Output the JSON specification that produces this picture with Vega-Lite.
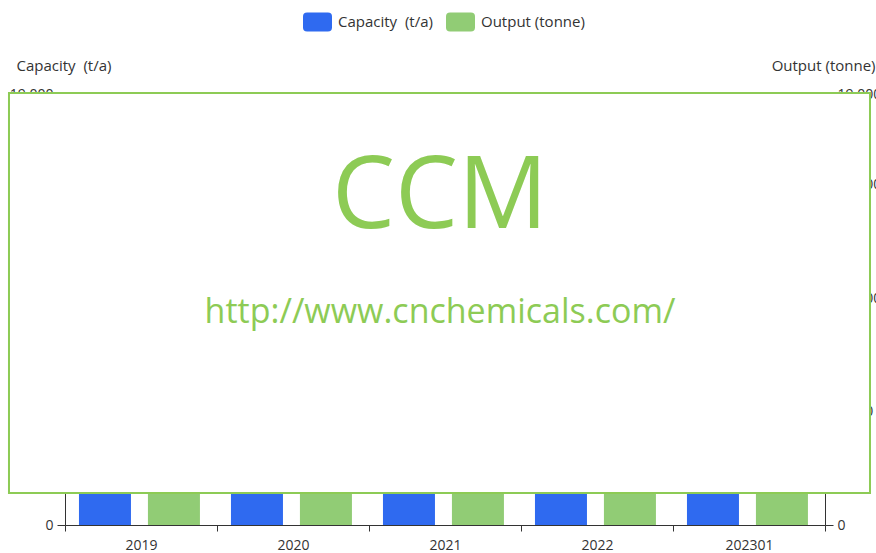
{
  "$schema": "https://vega.github.io/schema/vega-lite/v6.json",
  "width": 760,
  "height": 431,
  "autosize": {"type": "none"},
  "padding": {"left": 65, "top": 94, "right": 51, "bottom": 28},
  "background": "white",
  "config": {"view": {"stroke": null}, "font": "Open Sans"},
  "datasets": {
    "bars": [
      {"year": "2019", "series": "Capacity  (t/a)", "value": 16000},
      {"year": "2020", "series": "Capacity  (t/a)", "value": 16000},
      {"year": "2021", "series": "Capacity  (t/a)", "value": 17000},
      {"year": "2022", "series": "Capacity  (t/a)", "value": 17000},
      {"year": "202301", "series": "Capacity  (t/a)", "value": 17000},
      {"year": "2019", "series": "Output (tonne)", "value": 9500},
      {"year": "2020", "series": "Output (tonne)", "value": 10200},
      {"year": "2021", "series": "Output (tonne)", "value": 11800},
      {"year": "2022", "series": "Output (tonne)", "value": 12400},
      {"year": "202301", "series": "Output (tonne)", "value": 2000}
    ]
  },
  "resolve": {"scale": {"x": "independent", "y": "independent", "xOffset": "independent"}},
  "layer": [
    {
      "data": {"name": "bars"},
      "transform": [{"filter": "datum.series === 'Capacity  (t/a)'"}],
      "mark": {"type": "bar"},
      "encoding": {
        "x": {"field": "year", "type": "nominal", "sort": null,
          "scale": {"paddingInner": 0, "paddingOuter": 0},
          "axis": {"title": null, "labelAngle": 0, "tickBand": "extent", "tickSize": 6, "labelPadding": 7,
            "labelFontSize": 14, "labelColor": "#333", "domainColor": "#333", "tickColor": "#333", "grid": false}},
        "xOffset": {"field": "series", "type": "nominal",
          "scale": {"domain": ["Capacity  (t/a)", "Output (tonne)"], "paddingInner": 0.246, "paddingOuter": 0.225, "align": 0.45}},
        "y": {"field": "value", "type": "quantitative",
          "scale": {"domain": [0, 19000], "nice": false},
          "axis": {"orient": "left", "values": [0, 5000, 10000, 15000, 19000], "format": ",.0f", "grid": false,
            "title": "Capacity\u00a0 (t/a)", "titleAngle": 0, "titleX": -49, "titleY": -29, "titleAlign": "left",
            "titleBaseline": "middle", "titleFontSize": 15, "titleFontWeight": "normal", "titleColor": "#333",
            "labelFontSize": 14, "labelColor": "#333", "labelPadding": 4, "tickSize": 8,
            "domainColor": "#333", "tickColor": "#333"}},
        "color": {"field": "series", "type": "nominal",
          "scale": {"domain": ["Capacity  (t/a)", "Output (tonne)"], "range": ["#2f6af0", "#91cc75"]},
          "legend": {"orient": "none", "legendX": 238, "legendY": -86.5, "direction": "horizontal", "title": null,
            "labelExpr": "replace(datum.label, '  ', '\u00a0 ')",
            "symbolType": "M-0.72,-0.655H0.72Q1,-0.655 1,-0.375V0.375Q1,0.655 0.72,0.655H-0.72Q-1,0.655 -1,0.375V-0.375Q-1,-0.655 -0.72,-0.655Z",
            "symbolSize": 841, "symbolStrokeWidth": 0, "labelFontSize": 15, "labelColor": "#333",
            "columnPadding": 13, "labelOffset": 6}}
      }
    },
    {
      "data": {"name": "bars"},
      "transform": [{"filter": "datum.series === 'Output (tonne)'"}],
      "mark": {"type": "bar"},
      "encoding": {
        "x": {"field": "year", "type": "nominal", "sort": null,
          "scale": {"paddingInner": 0, "paddingOuter": 0}, "axis": null},
        "xOffset": {"field": "series", "type": "nominal",
          "scale": {"domain": ["Capacity  (t/a)", "Output (tonne)"], "paddingInner": 0.246, "paddingOuter": 0.225, "align": 0.45}},
        "y": {"field": "value", "type": "quantitative",
          "scale": {"domain": [0, 19000], "nice": false},
          "axis": {"orient": "right", "values": [0, 5000, 10000, 15000, 19000], "format": ",.0f", "grid": false,
            "title": "Output (tonne)", "titleAngle": 0, "titleX": 50, "titleY": -29, "titleAlign": "right",
            "titleBaseline": "middle", "titleFontSize": 15, "titleFontWeight": "normal", "titleColor": "#333",
            "labelFontSize": 14, "labelColor": "#333", "labelPadding": 4, "tickSize": 8,
            "domainColor": "#333", "tickColor": "#333"}},
        "color": {"field": "series", "type": "nominal",
          "scale": {"domain": ["Capacity  (t/a)", "Output (tonne)"], "range": ["#2f6af0", "#91cc75"]},
          "legend": {"orient": "none", "legendX": 238, "legendY": -86.5, "direction": "horizontal", "title": null,
            "labelExpr": "replace(datum.label, '  ', '\u00a0 ')",
            "symbolType": "M-0.72,-0.655H0.72Q1,-0.655 1,-0.375V0.375Q1,0.655 0.72,0.655H-0.72Q-1,0.655 -1,0.375V-0.375Q-1,-0.655 -0.72,-0.655Z",
            "symbolSize": 841, "symbolStrokeWidth": 0, "labelFontSize": 15, "labelColor": "#333",
            "columnPadding": 13, "labelOffset": 6}}
      }
    },
    {
      "data": {"values": [{}]},
      "mark": {"type": "rect", "fill": "white", "stroke": "#8dcb55", "strokeWidth": 2, "clip": false},
      "encoding": {
        "x": {"datum": -0.0737, "type": "quantitative", "scale": {"domain": [0, 1], "nice": false, "zero": false}, "axis": null},
        "x2": {"datum": 1.0592},
        "y": {"datum": 0.0742, "type": "quantitative", "scale": {"domain": [0, 1], "nice": false, "zero": false}, "axis": null},
        "y2": {"datum": 1.0023}
      }
    },
    {
      "data": {"values": [{}]},
      "mark": {"type": "text", "color": "#8dcb55", "align": "center", "baseline": "alphabetic", "fontSize": 100, "font": "Open Sans", "clip": false},
      "encoding": {
        "x": {"datum": 0.4934, "type": "quantitative", "scale": {"domain": [0, 1], "nice": false, "zero": false}, "axis": null},
        "y": {"datum": 0.689, "type": "quantitative", "scale": {"domain": [0, 1], "nice": false, "zero": false}, "axis": null},
        "text": {"value": "CCM"}
      }
    },
    {
      "data": {"values": [{}]},
      "mark": {"type": "text", "color": "#8dcb55", "align": "center", "baseline": "alphabetic", "fontSize": 34, "font": "Open Sans", "clip": false},
      "encoding": {
        "x": {"datum": 0.4934, "type": "quantitative", "scale": {"domain": [0, 1], "nice": false, "zero": false}, "axis": null},
        "y": {"datum": 0.4687, "type": "quantitative", "scale": {"domain": [0, 1], "nice": false, "zero": false}, "axis": null},
        "text": {"value": "http://www.cnchemicals.com/"}
      }
    }
  ]
}
